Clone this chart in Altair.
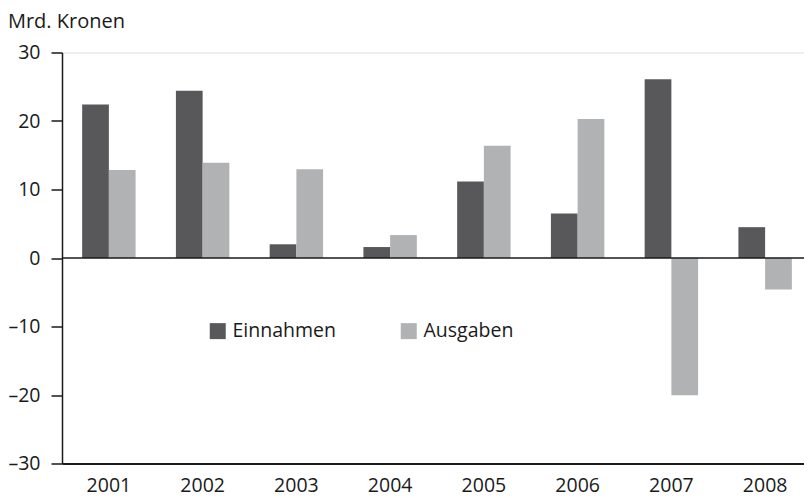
import altair as alt
import pandas as pd

years = ["2001", "2002", "2003", "2004", "2005", "2006", "2007", "2008"]
einnahmen = [22.4, 24.4, 2.0, 1.6, 11.15, 6.5, 26.1, 4.5]
ausgaben = [12.85, 13.9, 12.95, 3.35, 16.4, 20.3, -20.05, -4.6]
series = ["Einnahmen", "Ausgaben"]
colors = ["#58585a", "#b1b2b4"]
y_ticks = [-30, -20, -10, 0, 10, 20, 30]

rows = []
for i, yr in enumerate(years):
    rows.append({"Jahr": yr, "Reihe": series[0], "Wert": einnahmen[i]})
    rows.append({"Jahr": yr, "Reihe": series[1], "Wert": ausgaben[i]})
df = pd.DataFrame(rows)

FONT = "Open Sans"
TXT = "#1a1a1a"
FS = 19.5

y_scale = alt.Scale(domain=[-30, 30], nice=False, zero=False)

bars = alt.Chart(df).mark_bar(strokeWidth=0).encode(
    x=alt.X("Jahr:N", sort=years,
            scale=alt.Scale(paddingInner=0.43, paddingOuter=0.215, range=[0, 750]),
            axis=alt.Axis(title=None, labelAngle=0, ticks=False, domain=True,
                          domainColor=TXT, domainWidth=2, labelFontSize=FS,
                          labelColor=TXT, labelFont=FONT, labelPadding=13)),
    xOffset=alt.XOffset("Reihe:N", sort=series,
                        scale=alt.Scale(paddingInner=0, paddingOuter=0)),
    y=alt.Y("Wert:Q", scale=y_scale,
            axis=alt.Axis(title=None, values=y_ticks, grid=False,
                          tickSize=11, tickColor=TXT, tickWidth=1.5,
                          domainColor=TXT, domainWidth=1.5,
                          labelPadding=11, labelFontSize=FS, labelColor=TXT,
                          labelFont=FONT,
                          labelExpr="datum.value < 0 ? '\u2013' + abs(datum.value) : '' + datum.value")),
    color=alt.Color("Reihe:N", sort=series,
                    scale=alt.Scale(domain=series, range=colors),
                    legend=alt.Legend(title=None, orient="none", legendX=146, legendY=268.5,
                                      direction="horizontal", symbolType="square",
                                      symbolSize=256, symbolStrokeWidth=0,
                                      labelFontSize=FS, labelFont=FONT, labelColor=TXT,
                                      labelOffset=5, columnPadding=63, padding=0)),
)

zero = alt.Chart(pd.DataFrame({"v": [0]})).mark_rule(color=TXT, strokeWidth=1.5).encode(
    y=alt.Y("v:Q", scale=y_scale)
)

chart = alt.layer(bars, zero).properties(
    width=742, height=411,
    autosize=alt.AutoSizeParams(type="none"),
    padding={"left": 54, "right": 0, "top": 44.5, "bottom": 34},
    title=alt.Title("Mrd. Kronen", anchor="start", frame="bounds", fontSize=20,
                    fontWeight="normal", font=FONT, color=TXT, offset=11),
).configure_view(stroke=None).configure(font=FONT)

chart.save("out.html", embed_options={"renderer": "svg", "actions": False})
